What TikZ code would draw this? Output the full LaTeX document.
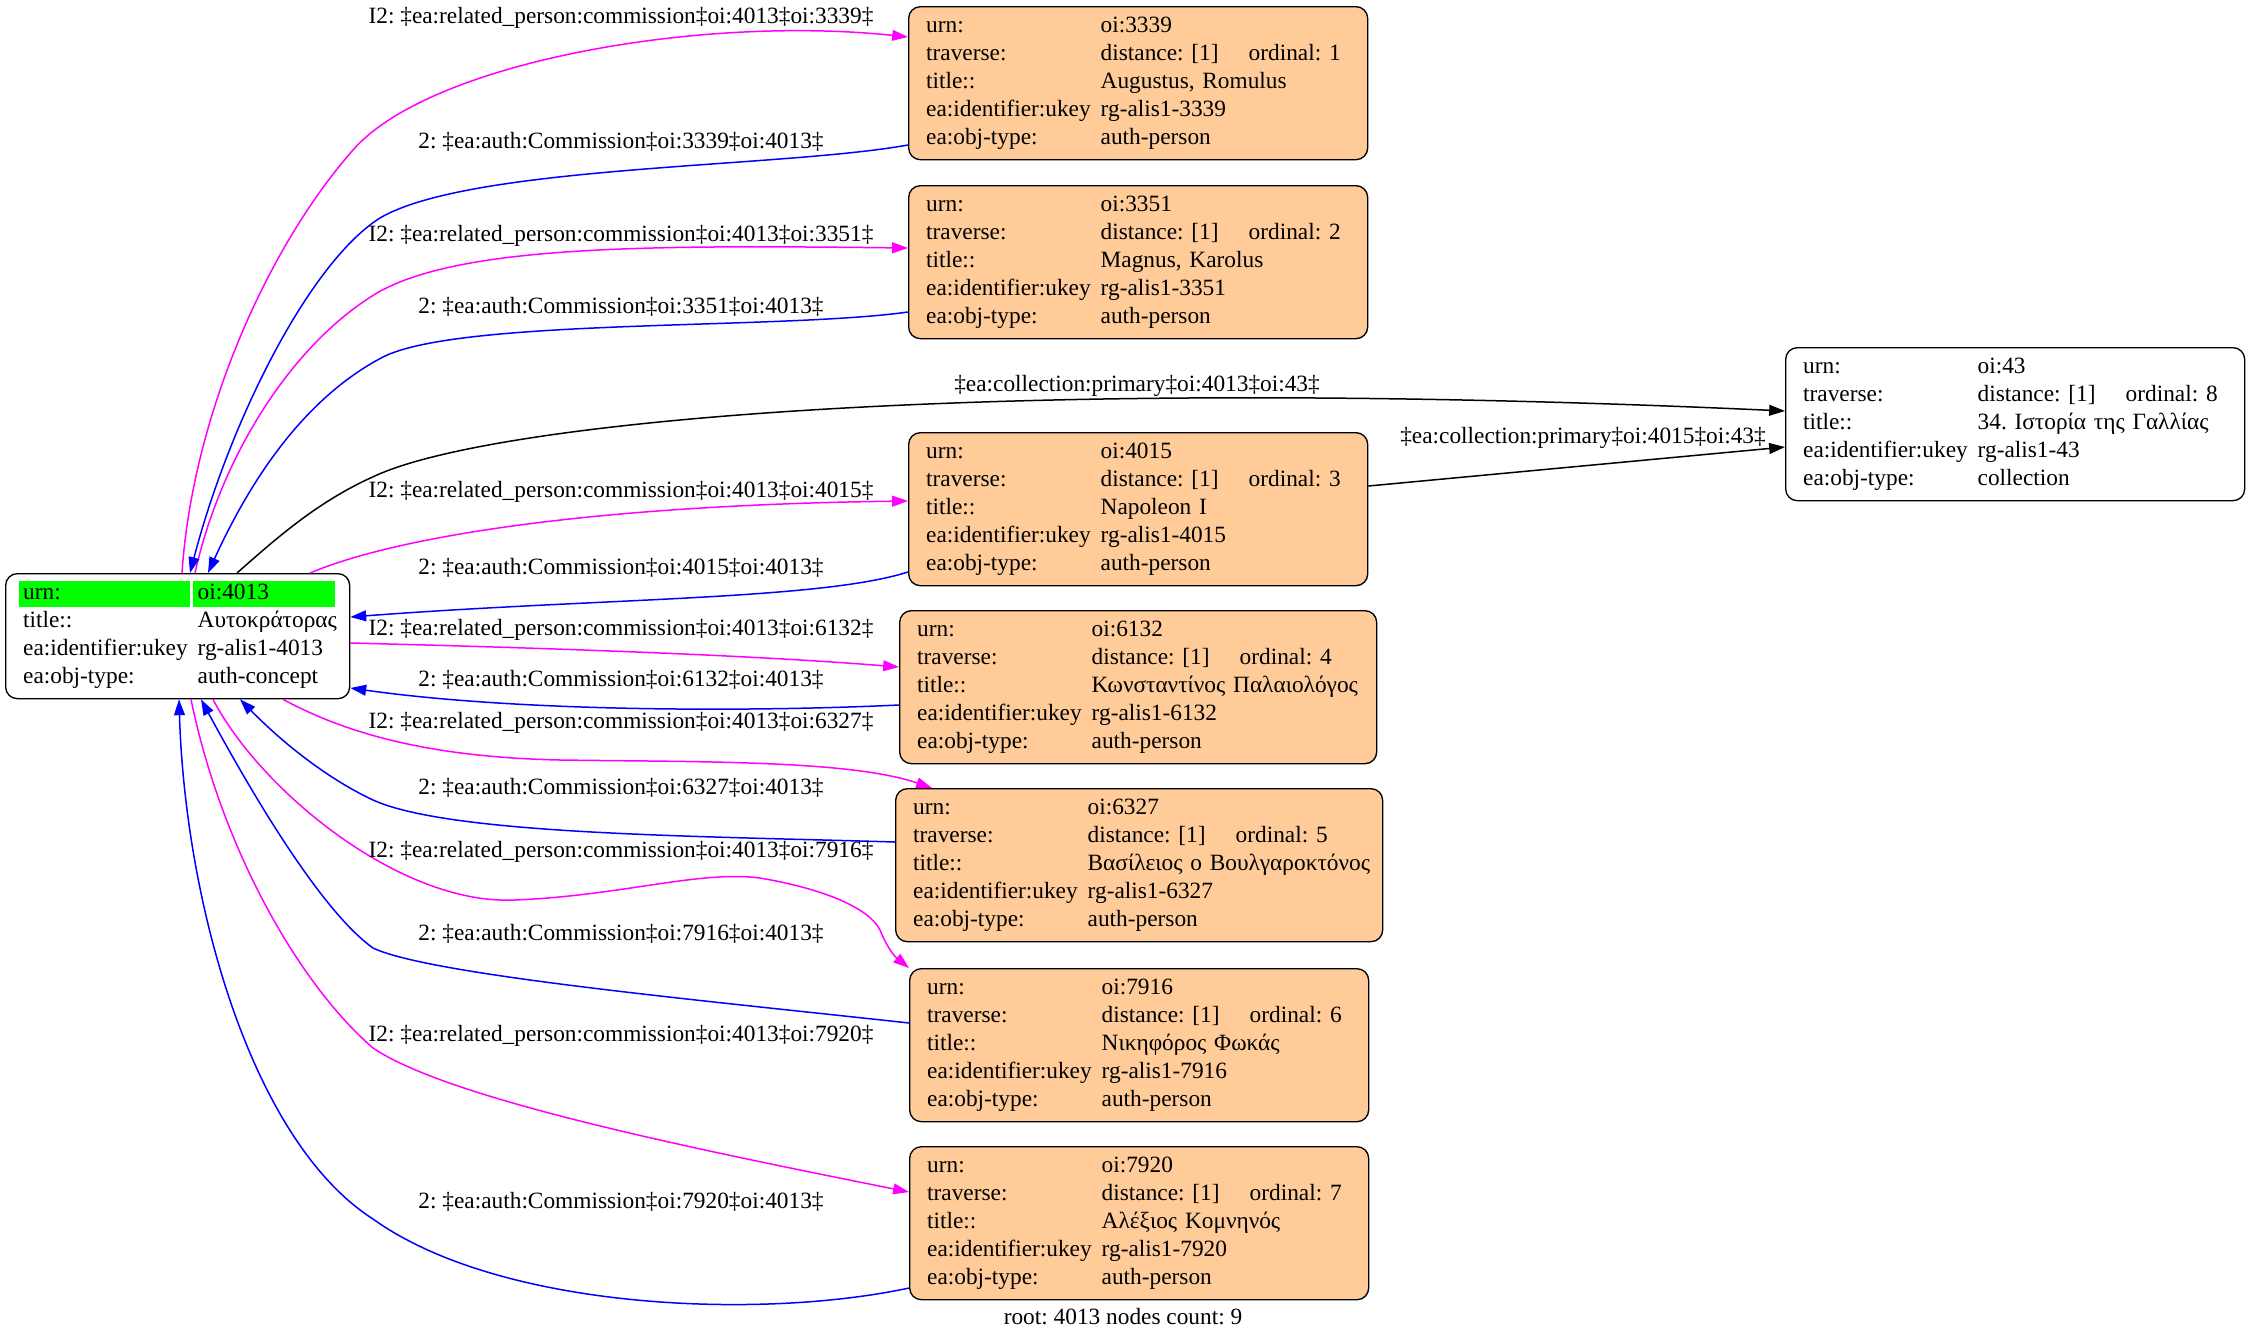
\documentclass[tikz,border=0pt]{standalone}
\usepackage{fontspec}
\setmainfont{Liberation Serif}
\usepackage{xcolor}
\usetikzlibrary{arrows.meta,calc}

\definecolor{persfill}{HTML}{FFCC99}
\definecolor{keygreen}{HTML}{00FF00}
\definecolor{relcol}{HTML}{FF00FF}
\definecolor{authcol}{HTML}{0000FF}

% Righe di un record (urn, ordinale, titolo, tipo)
\newcommand{\recrows}[4]{%
\begin{tabular}{@{}p{104.7pt}@{}p{88.8pt}@{}l@{}}
urn: & oi:#1 & \\
traverse: & distance: [1] & ordinal: #2\\
title:: & \multicolumn{2}{@{}l@{}}{#3}\\
ea:identifier:ukey & \multicolumn{2}{@{}l@{}}{rg-alis1-#1}\\
ea:obj-type: & \multicolumn{2}{@{}l@{}}{#4}
\end{tabular}}

\tikzset{
  rec/.style={draw=black, line width=0.8pt, rounded corners=7pt, anchor=north west,
    align=left, inner xsep=10.5pt, inner ysep=3.9pt},
  pers/.style={rec, fill=persfill},
  rel/.style={relcol, line width=0.9pt, -{Triangle[length=9.5pt,width=6.5pt]}},
  auth/.style={authcol, line width=0.9pt, -{Triangle[length=9.5pt,width=6.5pt]}},
  coll/.style={black, line width=0.9pt, -{Triangle[length=9.5pt,width=6.5pt]}},
  lbl/.style={inner sep=0pt}
}

\begin{document}
\frenchspacing
\begin{tikzpicture}[x=0.6pt, y=-0.6pt, every node/.append style={font=\fontsize{14}{16.8}\selectfont}]
\useasboundingbox (0,0) rectangle (2249,1339);

% Nodo radice
\fill[keygreen] (19,581) rectangle (190,607);
\fill[keygreen] (193,581) rectangle (335,607);
\node[rec, text width=185.4pt] (n4013) at (5,573) {%
\begin{tabular}{@{}p{104.7pt}@{}l@{}}
urn: & oi:4013\\
title:: & Αυτοκράτορας\\
ea:identifier:ukey & rg-alis1-4013\\
ea:obj-type: & auth-concept
\end{tabular}};

% Persone
\node[pers, text width=254.4pt] (n3339) at (908,6) {\recrows{3339}{1}{Augustus, Romulus}{auth-person}};
\node[pers, text width=254.4pt] (n3351) at (908,185) {\recrows{3351}{2}{Magnus, Karolus}{auth-person}};
\node[pers, text width=254.4pt] (n4015) at (908,432) {\recrows{4015}{3}{Napoleon I}{auth-person}};
\node[pers, text width=265.2pt] (n6132) at (899,610) {\recrows{6132}{4}{Κωνσταντίνος Παλαιολόγος}{auth-person}};
\node[pers, text width=271.2pt] (n6327) at (895,788) {\recrows{6327}{5}{Βασίλειος ο Βουλγαροκτόνος}{auth-person}};
\node[pers, text width=254.4pt] (n7916) at (909,968) {\recrows{7916}{6}{Νικηφόρος Φωκάς}{auth-person}};
\node[pers, text width=254.4pt] (n7920) at (909,1146) {\recrows{7920}{7}{Αλέξιος Κομνηνός}{auth-person}};

% Collezione
\node[rec, text width=254.4pt] (n43) at (1785,347) {\recrows{43}{8}{34. Ιστορία της Γαλλίας}{collection}};

% Archi related_person
\draw[rel] ($(n4013.north west)+(177,0)$) .. controls (192,420) and (265,250) .. (353,150)
  .. controls (430,62) and (700,15) .. ($(n3339.north west)+(0,31)$);
\draw[rel] ($(n4013.north west)+(190,0)$) .. controls (220,460) and (290,345) .. (377,293)
  .. controls (460,245) and (650,245) .. ($(n3351.north west)+(0,63)$);
\draw[rel] ($(n4013.north west)+(305,0)$) .. controls (400,535) and (600,505) .. ($(n4015.north west)+(0,69)$);
\draw[rel] ($(n4013.north east)+(0,70)$) .. controls (550,648) and (750,655) .. ($(n6132.north west)+(0,57)$);
\draw[rel] ($(n4013.south west)+(278,0)$) .. controls (340,730) and (420,757) .. (560,760)
  .. controls (700,762) and (850,760) .. ($(n6327.north west)+(37,0)$);
\draw[rel] ($(n4013.south west)+(208,0)$) .. controls (260,790) and (400,905) .. (514,900)
  .. controls (620,896) and (700,870) .. (760,878)
  .. controls (830,890) and (870,910) .. (880,930)
  .. controls (886,945) and (893,955) .. (n7916.north west);
\draw[rel] ($(n4013.south west)+(186,0)$) .. controls (222,850) and (300,985) .. (373,1048)
  .. controls (450,1100) and (700,1150) .. ($(n7920.north west)+(0,46)$);

% Archi auth:Commission
\draw[auth] ($(n3339.north west)+(0,139)$) .. controls (780,168) and (470,165) .. (380,218)
  .. controls (310,262) and (230,420) .. ($(n4013.north west)+(185,0)$);
\draw[auth] ($(n3351.north west)+(0,127)$) .. controls (780,330) and (460,318) .. (383,357)
  .. controls (310,395) and (255,470) .. ($(n4013.north west)+(203,0)$);
\draw[auth] ($(n4015.north west)+(0,140)$) .. controls (820,600) and (600,598) .. ($(n4013.north east)+(0,44)$);
\draw[auth] ($(n6132.north west)+(0,95)$) .. controls (750,712) and (520,712) .. ($(n4013.north east)+(0,115)$);
\draw[auth] ($(n6327.north west)+(0,54)$) .. controls (700,836) and (450,835) .. (373,800)
  .. controls (320,775) and (275,735) .. ($(n4013.south west)+(235,0)$);
\draw[auth] ($(n7916.north west)+(0,55)$) .. controls (700,1000) and (430,975) .. (373,948)
  .. controls (320,910) and (250,790) .. ($(n4013.south west)+(196,0)$);
\draw[auth] ($(n7920.north west)+(0,142)$) .. controls (760,1320) and (500,1310) .. (373,1219)
  .. controls (250,1140) and (185,900) .. ($(n4013.south west)+(174,0)$);

% Archi collection
\draw[coll] ($(n4013.north west)+(232,0)$) .. controls (280,535) and (320,500) .. (377,475)
  .. controls (500,420) and (1000,375) .. ($(n43.north west)+(0,64)$);
\draw[coll] ($(n4015.north east)+(0,54)$) -- ($(n43.north west)+(0,100)$);

% Etichette
\node[lbl] (lr3339) at (621,18) {I2: ‡ea:related\_person:commission‡oi:4013‡oi:3339‡};
\node[lbl] (la3339) at (621,142) {2: ‡ea:auth:Commission‡oi:3339‡oi:4013‡};
\node[lbl] (lr3351) at (621,236) {I2: ‡ea:related\_person:commission‡oi:4013‡oi:3351‡};
\node[lbl] (la3351) at (621,307) {2: ‡ea:auth:Commission‡oi:3351‡oi:4013‡};
\node[lbl] (lc4013) at (1137,386) {‡ea:collection:primary‡oi:4013‡oi:43‡};
\node[lbl] (lr4015) at (621,492) {I2: ‡ea:related\_person:commission‡oi:4013‡oi:4015‡};
\node[lbl] (la4015) at (621,568) {2: ‡ea:auth:Commission‡oi:4015‡oi:4013‡};
\node[lbl] (lr6132) at (621,630) {I2: ‡ea:related\_person:commission‡oi:4013‡oi:6132‡};
\node[lbl] (la6132) at (621,680) {2: ‡ea:auth:Commission‡oi:6132‡oi:4013‡};
\node[lbl] (lr6327) at (621,723) {I2: ‡ea:related\_person:commission‡oi:4013‡oi:6327‡};
\node[lbl] (la6327) at (621,788) {2: ‡ea:auth:Commission‡oi:6327‡oi:4013‡};
\node[lbl] (lr7916) at (621,852) {I2: ‡ea:related\_person:commission‡oi:4013‡oi:7916‡};
\node[lbl] (la7916) at (621,934) {2: ‡ea:auth:Commission‡oi:7916‡oi:4013‡};
\node[lbl] (lr7920) at (621,1036) {I2: ‡ea:related\_person:commission‡oi:4013‡oi:7920‡};
\node[lbl] (la7920) at (621,1202) {2: ‡ea:auth:Commission‡oi:7920‡oi:4013‡};
\node[lbl] (lc4015) at (1583,438) {‡ea:collection:primary‡oi:4015‡oi:43‡};

\node[lbl] (rootinfo) at (1123,1317) {root: 4013 nodes count: 9};
\end{tikzpicture}
\end{document}
